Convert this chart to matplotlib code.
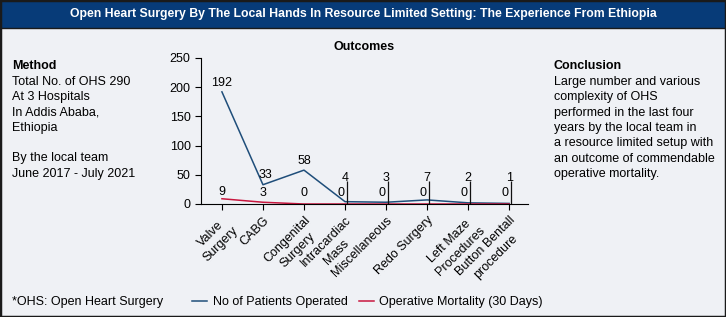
import matplotlib.pyplot as plt
from matplotlib.patches import Rectangle
import numpy as np

plt.rcParams['font.family'] = ['Liberation Sans', 'DejaVu Sans']

# chart data
categories = ["Valve\nSurgery", "CABG", "Congenital\nSurgery", "Intracardiac\nMass",
              "Miscellaneous", "Redo Surgery", "Left Maze\nProcedures",
              "Button Bentall\nprocedure"]
patients = [192, 33, 58, 4, 3, 7, 2, 1]
mortality = [9, 3, 0, 0, 0, 0, 0, 0]

title = "Open Heart Surgery By The Local Hands In Resource Limited Setting: The Experience From Ethiopia"
method_lines = ["Total No. of OHS 290", "At 3 Hospitals", "In Addis Ababa,", "Ethiopia",
                "", "By the local team", "June 2017 - July 2021"]
conclusion_lines = ["Large number and various", "complexity of OHS",
                    "performed in the last four", "years by the local team in",
                    "a resource limited setup with", "an outcome of commendable",
                    "operative mortality."]

blue = "#1f4e7a"
red = "#c8173f"
bg = "#eff1f5"

W, H = 726, 317
fig = plt.figure(figsize=(W / 100, H / 100), dpi=100)
fig.patch.set_facecolor(bg)

# border and banner
fig.patches.append(Rectangle((0, 1 - 28 / H), 1, 28 / H, transform=fig.transFigure,
                             facecolor="#073b78", edgecolor="#1a1a1a", linewidth=1))
fig.patches.append(Rectangle((0, 0), 1, 1, transform=fig.transFigure, fill=False,
                             edgecolor="#1a1a1a", linewidth=2.5))
fig.text(0.5, 1 - 14.5 / H, title, color="white", fontsize=8.8, fontweight="bold",
         ha="center", va="center")

ax = fig.add_axes([201 / W, 1 - 204 / H, 327 / W, 146 / H])
ax.set_facecolor(bg)
x = np.arange(len(categories))
ax.plot(x, patients, color=blue, linewidth=1.1, label="No of Patients Operated")
ax.plot(x, mortality, color=red, linewidth=1.1, label="Operative Mortality (30 Days)")

# thin stems seen above the small categories
for i in range(3, len(categories)):
    ax.vlines(i + 0.05, 0, 40, color="#111111", linewidth=0.9)

for i, v in enumerate(patients):
    dx = 0.05 if i == 1 else 0
    ax.text(i + dx, max(v + 16, 44), str(v), ha="center", va="center", fontsize=9)
for i, v in enumerate(mortality):
    dx = -0.1 if i >= 3 else 0
    ax.text(i + dx, max(v + 12, 19), str(v), ha="center", va="center", fontsize=9)

ax.set_xlim(-0.51, 7.46)
ax.set_ylim(0, 250)
ax.set_yticks(range(0, 251, 50))
ax.set_xticks(x)
ax.set_xticklabels(categories, rotation=45, ha="right", rotation_mode="anchor",
                   multialignment="center", fontsize=9, linespacing=1.3)
ax.tick_params(axis="y", labelsize=9, length=4)
ax.tick_params(axis="x", length=4)
for s in ["top", "right"]:
    ax.spines[s].set_visible(False)
ax.set_title("Outcomes", fontsize=9, fontweight="bold", pad=6)

fig.text(12 / W, 1 - 66 / H, "Method", fontsize=9, fontweight="bold", va="center")
for k, line in enumerate(method_lines):
    fig.text(12 / W, 1 - (82 + 15.3 * k) / H, line, fontsize=9, va="center")

fig.text(554 / W, 1 - 66 / H, "Conclusion", fontsize=9, fontweight="bold", va="center")
for k, line in enumerate(conclusion_lines):
    fig.text(554 / W, 1 - (82 + 15.3 * k) / H, line, fontsize=9, va="center")

fig.text(12 / W, 1 - 302 / H, "*OHS: Open Heart Surgery", fontsize=9, va="center")
fig.legend(loc="center left", bbox_to_anchor=(192 / W, 1 - 302 / H), ncol=2,
           frameon=False, fontsize=9, handlelength=1.2, handletextpad=0.45,
           columnspacing=0.9, borderpad=0, borderaxespad=0)

fig.savefig("out.png", dpi=100, facecolor=bg)
plt.close(fig)
